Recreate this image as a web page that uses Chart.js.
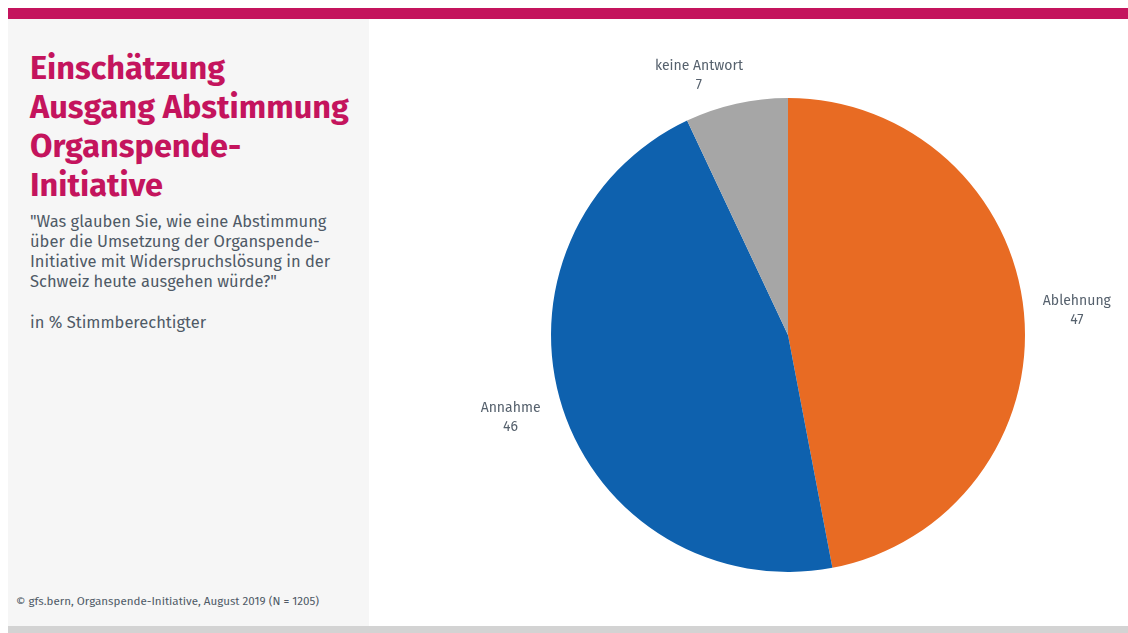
<!DOCTYPE html>
<html lang="de">
<head>
<meta charset="utf-8">
<script src="https://cdn.jsdelivr.net/npm/chart.js@4"></script>
<style>
  html, body { margin: 0; padding: 0; background: #ffffff; }
  body { width: 1128px; height: 633px; position: relative; overflow: hidden; font-family: "Fira Sans", Lato, "Noto Sans", sans-serif; }
  .topbar { position: absolute; left: 8px; top: 8px; width: 1120px; height: 11px; background: #c4145d; }
  .panel { position: absolute; left: 8px; top: 19px; width: 361px; height: 607px; background: #f6f6f6; }
  .bottombar { position: absolute; left: 8px; top: 626px; width: 1120px; height: 7px; background: #d3d3d3; }
  .title { position: absolute; left: 30px; top: 49px; font-size: 32.5px; line-height: 39px; font-weight: 700; color: #c4145d; white-space: nowrap; }
  .question { position: absolute; left: 30px; top: 212px; font-size: 16.5px; line-height: 20px; color: #4f5a66; white-space: nowrap; }
  .unit { position: absolute; left: 30px; top: 313px; font-size: 16.5px; line-height: 20px; color: #4f5a66; white-space: nowrap; }
  .source { position: absolute; left: 16px; top: 594px; font-size: 11.6px; line-height: 14px; color: #4f5a66; white-space: nowrap; }
  .chartbox { position: absolute; left: 368px; top: 18px; width: 760px; height: 608px; }
</style>
</head>
<body>
<div class="topbar"></div>
<div class="panel"></div>
<div class="bottombar"></div>
<div class="title">Einschätzung<br>Ausgang Abstimmung<br>Organspende-<br>Initiative</div>
<div class="question">"Was glauben Sie, wie eine Abstimmung<br>über die Umsetzung der Organspende-<br>Initiative mit Widerspruchslösung in der<br>Schweiz heute ausgehen würde?"</div>
<div class="unit">in % Stimmberechtigter</div>
<div class="source">© gfs.bern, Organspende-Initiative, August 2019 (N = 1205)</div>
<div class="chartbox"><canvas id="c" width="760" height="608"></canvas></div>
<script>
// Vote intention, in % of eligible voters
const categories = ["Ablehnung", "Annahme", "keine Antwort"];
const shares = [47, 46, 7];
const sliceColors = ["#e86b23", "#0e61ae", "#a6a6a6"];

// Writes "name / value" outside each slice, pushed away from the rim
const outsideLabels = {
  id: "outsideLabels",
  afterDatasetsDraw(chart) {
    const ctx = chart.ctx;
    const meta = chart.getDatasetMeta(0);
    ctx.save();
    ctx.font = "14px 'Fira Sans', Lato, 'Noto Sans', sans-serif";
    ctx.fillStyle = "#56616d";
    ctx.textAlign = "center";
    ctx.textBaseline = "middle";
    meta.data.forEach((arc, i) => {
      const p = arc.getProps(["x", "y", "startAngle", "endAngle", "outerRadius"], true);
      const mid = (p.startAngle + p.endAngle) / 2;
      const dx = Math.cos(mid), dy = Math.sin(mid);
      const name = chart.data.labels[i];
      const val = String(chart.data.datasets[0].data[i]);
      const r = p.outerRadius + 20;
      const cx = p.x + dx * r + Math.sign(dx) * 33;
      const cy = p.y + dy * r + dy * 9;
      ctx.fillText(name, cx, cy - 9);
      ctx.fillText(val, cx, cy + 10);
    });
    ctx.restore();
  }
};

new Chart(document.getElementById("c"), {
  type: "pie",
  data: {
    labels: categories,
    datasets: [{
      data: shares,
      backgroundColor: sliceColors,
      borderWidth: 0
    }]
  },
  options: {
    responsive: false,
    animation: false,
    radius: 237,
    layout: { padding: { left: 80, right: 0, top: 26, bottom: 0 } },
    plugins: {
      legend: { display: false },
      tooltip: { enabled: false }
    }
  },
  plugins: [outsideLabels]
});
</script>
</body>
</html>
